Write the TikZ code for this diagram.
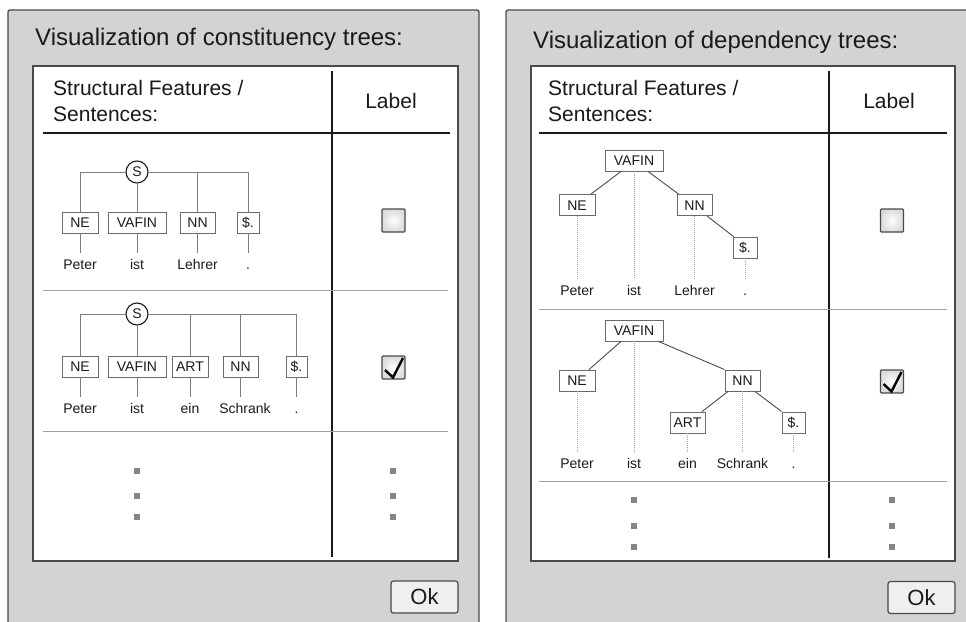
\documentclass[tikz,border=0pt]{standalone}
\usepackage{fontspec}
\setmainfont{Liberation Sans}
\definecolor{panelgray}{HTML}{D3D3D3}
\definecolor{edgegray}{HTML}{4A4A4A}
\definecolor{linegray}{HTML}{7C7C7C}
\definecolor{boxgray}{HTML}{6A6A6A}
\definecolor{sepgray}{HTML}{A0A0A0}
\definecolor{dotgray}{HTML}{858585}
\definecolor{inkc}{HTML}{1A1A1A}
\definecolor{btnfill}{HTML}{EFEFEF}
\begin{document}
\begin{tikzpicture}[x=1pt,y=-1pt,
  panel/.style={fill=panelgray, draw=edgegray, line width=1.3pt, rounded corners=2pt},
  sheet/.style={fill=white, draw=edgegray, line width=1.3pt},
  divider/.style={draw=inkc, line width=1.8pt},
  rowsep/.style={draw=sepgray, line width=1pt},
  titletext/.style={anchor=base west, inner sep=0, font=\fontsize{24}{28}\selectfont, text=inkc},
  headtext/.style={anchor=base west, inner sep=0, font=\fontsize{21}{25}\selectfont, text=inkc},
  labeltext/.style={anchor=base, inner sep=0, font=\fontsize{21}{25}\selectfont, text=inkc},
  tbox/.style={draw=boxgray, fill=white, line width=0.9pt, inner sep=0, minimum height=21pt,
    text height=10pt, text depth=0pt, font=\fontsize{14}{16}\selectfont, text=inkc},
  snode/.style={circle, draw=inkc, fill=white, line width=1.1pt, inner sep=0, minimum size=22pt,
    font=\fontsize{14}{16}\selectfont, text=inkc},
  wordtext/.style={anchor=base, inner xsep=0, inner ysep=6pt, text height=10pt, text depth=3pt,
    font=\fontsize{14}{16}\selectfont, text=inkc},
  treeline/.style={draw=linegray, line width=1pt},
  depline/.style={draw=edgegray, line width=0.9pt},
  dotline/.style={draw=sepgray, line width=0.8pt, dash pattern=on 0.8pt off 1.2pt},
  chk/.style={rectangle, draw=edgegray, line width=1.2pt, inner sep=0, minimum size=23pt,
    inner color=white, outer color=black!14, rounded corners=1pt},
  checkmark/.style={draw=black, line width=2.4pt, line join=miter},
  dotsq/.style={rectangle, fill=dotgray, inner sep=0, minimum size=6pt},
  okbtn/.style={rectangle, draw=edgegray, fill=btnfill, line width=1.2pt, rounded corners=2.5pt,
    inner sep=0, minimum width=67pt, minimum height=32pt, font=\fontsize{22}{26}\selectfont, text=inkc}
]
\useasboundingbox (0,0) rectangle (966,621);

% ================= LEFT PANEL =================
\draw[panel] (8,10) rectangle (479,640);
\draw[sheet] (33,66) rectangle (458,561);
\draw[divider] (332,71) -- (332,557);
\draw[divider] (43,133) -- (450,133);
\draw[rowsep] (43,290) -- (448,290);
\draw[rowsep] (43,431) -- (448,431);
\node[titletext] (ltitle) at (35,45) {Visualization of constituency trees:};
\node[headtext] (lhd1) at (53,95) {Structural Features /};
\node[headtext] (lhd2) at (53,121) {Sentences:};
\node[labeltext] (llab) at (391,108) {Label};

% row 1 constituency tree
\node[snode] (aS) at (137,172) {S};
\node[tbox, minimum width=36pt] (aNE) at (80,222.5) {NE};
\node[tbox, minimum width=58pt] (aVA) at (137,222.5) {VAFIN};
\node[tbox, minimum width=35pt] (aNN) at (197.5,222.5) {NN};
\node[tbox, minimum width=22pt] (aPu) at (248,222.5) {\$.};
\node[wordtext] (aw1) at (80,269) {Peter};
\node[wordtext] (aw2) at (137,269) {ist};
\node[wordtext] (aw3) at (197.5,269) {Lehrer};
\node[wordtext] (aw4) at (248,269) {.};
\draw[treeline] (aNE.north) |- (aS.west);
\draw[treeline] (aS.east) -| (aPu.north);
\draw[treeline] (aS.east) -| (aNN.north);
\draw[treeline] (aS.south) -- (aVA.north);
\foreach \b/\w in {aNE/aw1, aVA/aw2, aNN/aw3, aPu/aw4}
  \draw[treeline] (\b.south) -- (\b.south |- \w.north);
\node[chk] (acb) at (393.5,220.5) {};

% row 2 constituency tree
\node[snode] (bS) at (137,314) {S};
\node[tbox, minimum width=36pt] (bNE) at (80,366.5) {NE};
\node[tbox, minimum width=58pt] (bVA) at (137,366.5) {VAFIN};
\node[tbox, minimum width=36pt] (bAR) at (190,366.5) {ART};
\node[tbox, minimum width=35pt] (bNN) at (240.5,366.5) {NN};
\node[tbox, minimum width=21pt] (bPu) at (296.5,366.5) {\$.};
\node[wordtext] (bw1) at (80,413) {Peter};
\node[wordtext] (bw2) at (137,413) {ist};
\node[wordtext] (bw3) at (190,413) {ein};
\node[wordtext] (bw4) at (245,413) {Schrank};
\node[wordtext] (bw5) at (296.5,413) {.};
\draw[treeline] (bNE.north) |- (bS.west);
\draw[treeline] (bS.east) -| (bPu.north);
\draw[treeline] (bS.east) -| (bAR.north);
\draw[treeline] (bS.east) -| (bNN.north);
\draw[treeline] (bS.south) -- (bVA.north);
\foreach \b/\w in {bNE/bw1, bVA/bw2, bAR/bw3, bNN/bw4, bPu/bw5}
  \draw[treeline] (\b.south) -- (\b.south |- \w.north);
\node[chk] (bcb) at (393.5,367.5) {};
\draw[checkmark] ([shift={(-8.5,2.5)}]bcb.center) -- ([shift={(-0.5,10)}]bcb.center) -- ([shift={(9.5,-9.5)}]bcb.center);

% dots
\node[dotsq] (ld1) at (137,471) {};
\node[dotsq] (ld2) at (137,496) {};
\node[dotsq] (ld3) at (137,517) {};
\node[dotsq] (ld4) at (393,471) {};
\node[dotsq] (ld5) at (393,496) {};
\node[dotsq] (ld6) at (393,517) {};

\node[okbtn] (lok) at (424.5,597) {Ok};

% ================= RIGHT PANEL =================
\draw[panel] (506,10) rectangle (990,640);
\draw[sheet] (531,66) rectangle (955,561);
\draw[divider] (829,71) -- (829,558);
\draw[divider] (539,133) -- (947,133);
\draw[rowsep] (539,309) -- (947,309);
\draw[rowsep] (539,481) -- (947,481);
\node[titletext] (rtitle) at (533,48) {Visualization of dependency trees:};
\node[headtext] (rhd1) at (548,95) {Structural Features /};
\node[headtext] (rhd2) at (548,121) {Sentences:};
\node[labeltext] (rlab) at (889,108) {Label};

% row 1 dependency tree
\node[tbox, minimum width=58pt] (cVA) at (634,160.5) {VAFIN};
\node[tbox, minimum width=36pt] (cNE) at (577,205) {NE};
\node[tbox, minimum width=35pt] (cNN) at (694.5,205) {NN};
\node[tbox, minimum width=24pt] (cPu) at (745,247.5) {\$.};
\node[wordtext] (cw1) at (577,295) {Peter};
\node[wordtext] (cw2) at (634,295) {ist};
\node[wordtext] (cw3) at (694.5,295) {Lehrer};
\node[wordtext] (cw4) at (745,295) {.};
\draw[depline] ([xshift=-13pt]cVA.south) -- ([xshift=14pt]cNE.north);
\draw[depline] ([xshift=14pt]cVA.south) -- ([xshift=2pt]cNN.north west);
\draw[depline] ([xshift=12.5pt]cNN.south) -- ([xshift=1pt]cPu.north west);
\foreach \b/\w in {cNE/cw1, cVA/cw2, cNN/cw3, cPu/cw4}
  \draw[dotline] (\b.south) -- (\b.south |- \w.north);
\node[chk] (ccb) at (892,220.5) {};

% row 2 dependency tree
\node[tbox, minimum width=58pt] (dVA) at (634,330.5) {VAFIN};
\node[tbox, minimum width=36pt] (dNE) at (577,380.5) {NE};
\node[tbox, minimum width=35pt] (dNN) at (742.5,380.5) {NN};
\node[tbox, minimum width=35pt] (dAR) at (687.5,422.5) {ART};
\node[tbox, minimum width=23pt] (dPu) at (793.5,422.5) {\$.};
\node[wordtext] (dw1) at (577,468) {Peter};
\node[wordtext] (dw2) at (634,468) {ist};
\node[wordtext] (dw3) at (687.5,468) {ein};
\node[wordtext] (dw4) at (742.5,468) {Schrank};
\node[wordtext] (dw5) at (793.5,468) {.};
\draw[depline] ([xshift=-13pt]dVA.south) -- ([xshift=12pt]dNE.north);
\draw[depline] ([xshift=-5pt]dVA.south east) -- (dNN.north west);
\draw[depline] ([xshift=-14.5pt]dNN.south) -- ([xshift=14.5pt]dAR.north);
\draw[depline] ([xshift=12.5pt]dNN.south) -- (dPu.north west);
\foreach \b/\w in {dNE/dw1, dVA/dw2, dNN/dw4, dAR/dw3, dPu/dw5}
  \draw[dotline] (\b.south) -- (\b.south |- \w.north);
\node[chk] (dcb) at (892,381.5) {};
\draw[checkmark] ([shift={(-8.5,2.5)}]dcb.center) -- ([shift={(-0.5,10)}]dcb.center) -- ([shift={(9.5,-9.5)}]dcb.center);

% dots
\node[dotsq] (rd1) at (634,500) {};
\node[dotsq] (rd2) at (634,526) {};
\node[dotsq] (rd3) at (634,547) {};
\node[dotsq] (rd4) at (892,500) {};
\node[dotsq] (rd5) at (892,526) {};
\node[dotsq] (rd6) at (892,547) {};

\node[okbtn] (rok) at (921.5,597.5) {Ok};
\end{tikzpicture}
\end{document}
